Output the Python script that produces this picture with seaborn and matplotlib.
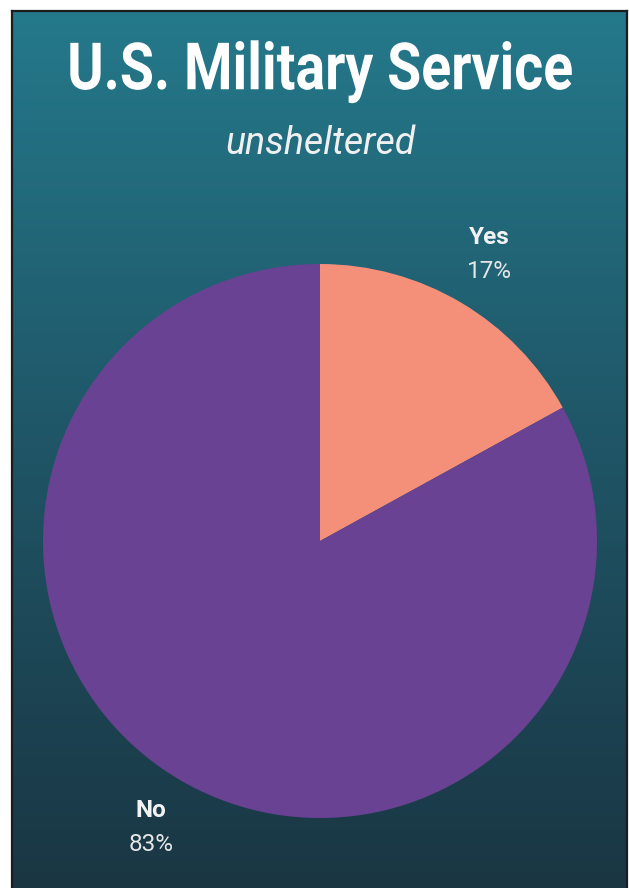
import numpy as np
import matplotlib
matplotlib.use("Agg")
import matplotlib.pyplot as plt
import seaborn as sns
from matplotlib.colors import LinearSegmentedColormap
from matplotlib.transforms import offset_copy, Affine2D
from matplotlib.patheffects import AbstractPathEffect

# Data
categories = ["Yes", "No"]
shares = [17, 83]
slice_colors = ["#F4907A", "#6A4293"]
title_text = "U.S. Military Service"
subtitle_text = "unsheltered"

sns.set_theme(style="white")
plt.rcParams["font.family"] = ["Roboto", "DejaVu Sans"]

W, H, DPI = 629, 888, 100
fig = plt.figure(figsize=(W / DPI, H / DPI), dpi=DPI, facecolor="white")


class Condense(AbstractPathEffect):
    """Narrow glyphs horizontally around a fixed x position (display px)."""

    def __init__(self, sx, cx):
        super().__init__()
        self.sx, self.cx = sx, cx

    def draw_path(self, renderer, gc, tpath, affine, rgbFace=None):
        squeeze = (Affine2D().translate(-self.cx, 0)
                   .scale(self.sx, 1).translate(self.cx, 0))
        renderer.draw_path(gc, tpath, affine + squeeze, rgbFace)


# Panel with a vertical teal-to-dark gradient
px0, px1, py0, py1 = 12, 627, 11, 888
bg = fig.add_axes([px0 / W, 1 - py1 / H, (px1 - px0) / W, (py1 - py0) / H])
grad_cmap = LinearSegmentedColormap.from_list(
    "panel", ["#1A3643", "#1F5566", "#24798B"])
grad = np.linspace(0, 1, 256).reshape(-1, 1)
bg.imshow(grad, cmap=grad_cmap, aspect="auto", origin="lower",
          extent=[0, 1, 0, 1])
bg.set_xticks([])
bg.set_yticks([])
for side in ["left", "right", "top"]:
    bg.spines[side].set_color("#1c1c1c")
    bg.spines[side].set_linewidth(1.6)
bg.spines["bottom"].set_visible(False)

# Pie
cx, cy, r = 320, 541, 277
ax = fig.add_axes([(cx - r) / W, 1 - (cy + r) / H, 2 * r / W, 2 * r / H])
ax.patch.set_alpha(0)
wedges, _ = ax.pie(shares, colors=slice_colors, startangle=90,
                   counterclock=False, radius=1,
                   wedgeprops=dict(linewidth=0))
ax.set_xlim(-1, 1)
ax.set_ylim(-1, 1)
ax.set_axis_off()

label_r = 1.2
for w, name, val in zip(wedges, categories, shares):
    mid = np.deg2rad((w.theta1 + w.theta2) / 2)
    x, y = label_r * np.cos(mid), label_r * np.sin(mid)
    t_up = offset_copy(ax.transData, fig=fig, x=0, y=17, units="dots")
    t_dn = offset_copy(ax.transData, fig=fig, x=0, y=-17, units="dots")
    ax.text(x, y, name, transform=t_up, ha="center", va="center",
            fontsize=17.5, fontweight="bold", color="#F2F2F2", clip_on=False)
    ax.text(x, y, f"{val}%", transform=t_dn, ha="center", va="center",
            fontsize=17.5, color="#E6E6E6", clip_on=False)

# Titles
fig.text(320 / W, 1 - 72 / H, title_text, ha="center", va="center",
         fontsize=47, fontweight="bold", color="white",
         path_effects=[Condense(0.85, 320)])
fig.text(320 / W, 1 - 143 / H, subtitle_text, ha="center", va="center",
         fontsize=27, fontstyle="italic", fontweight="normal",
         color="#F0F0F0")

fig.savefig("out.png", dpi=DPI, facecolor="white")
